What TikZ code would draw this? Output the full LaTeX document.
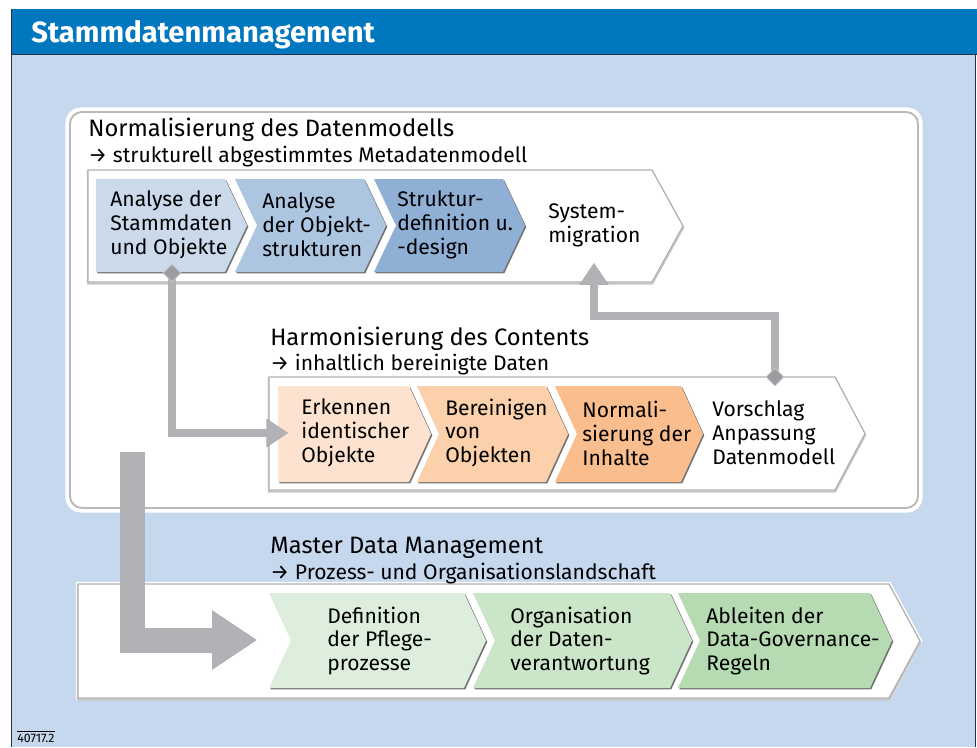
\documentclass[tikz,border=0pt]{standalone}
\usepackage{fontspec}
\setmainfont{Fira Sans}
\usepackage{tikz}
\usetikzlibrary{arrows.meta,shapes.geometric}
\definecolor{headblue}{RGB}{0,119,190}
\definecolor{panelblue}{RGB}{198,216,238}
\definecolor{frameline}{RGB}{40,48,70}
\definecolor{normA}{RGB}{202,218,235}
\definecolor{normB}{RGB}{172,197,225}
\definecolor{normC}{RGB}{143,175,212}
\definecolor{harmA}{RGB}{253,227,207}
\definecolor{harmB}{RGB}{251,208,171}
\definecolor{harmC}{RGB}{249,189,142}
\definecolor{mdmA}{RGB}{222,238,220}
\definecolor{mdmB}{RGB}{203,229,201}
\definecolor{mdmC}{RGB}{182,219,179}
\definecolor{flowgray}{RGB}{177,178,181}
\definecolor{flowedge}{RGB}{138,140,144}
\pgfdeclarelayer{front}
\pgfsetlayers{main,front}
% chevron: #1 options, #2 left, #3 right corner, #4 top, #5 bottom, #6 notch, #7 tip
\newcommand{\chevshape}[7]{%
  \path[#1] (#2,#4) -- (#3,#4) -- ({#3+#7},{(#4+#5)/2}) -- (#3,#5)
    -- (#2,#5) -- ({#2+#6},{(#4+#5)/2}) -- cycle;}
% coloured process step with a small drop shadow
\newcommand{\stepfill}[6]{%
  \chevshape{fill=black!55, shift={(1.3,1.3)}}{#2}{#3}{#4}{#5}{#6}{22}
  \chevshape{fill=#1}{#2}{#3}{#4}{#5}{#6}{22}}
% outline of a whole phase
\newcommand{\bandframe}[5]{%
  \chevshape{draw=white, line width=2.5pt}{#1}{#2}{#3}{#4}{0}{#5}
  \chevshape{draw=gray!45, line width=1.4pt, shift={(0,1.5)}}{#1}{#2}{#3}{#4}{0}{#5}
  \chevshape{fill=white, draw=gray!60, line width=0.7pt}{#1}{#2}{#3}{#4}{0}{#5}}
\tikzset{
  steplabel/.style={
    anchor=west,
    align=left,
    inner sep=0pt,
    font=\fontsize{12}{13.6}\selectfont
  },
  bandtitle/.style={
    anchor=base west,
    inner sep=0pt,
    font=\fontsize{13.5}{16}\selectfont
  },
  bandnote/.style={
    anchor=base west,
    inner sep=0pt,
    font=\fontsize{12}{14}\selectfont
  },
  joint/.style={
    diamond,
    fill=flowedge!85,
    draw=gray!40,
    line width=0.4pt,
    minimum size=3.6mm,
    inner sep=0pt
  },
  flow/.style={
    draw=flowgray,
    line width=1.6mm,
    -{Triangle[length=4.3mm,width=5.4mm]}
  },
  flowshade/.style={
    flow,
    draw=flowedge,
    shift={(1.2,1.2)}
  },
  bigflow/.style={
    draw=flowgray,
    line width=5mm,
    -{Triangle[length=9mm,width=11.2mm]}
  },
  bigflowshade/.style={
    bigflow,
    draw=flowedge,
    shift={(1.5,1.5)}
  }
}
\begin{document}
\begin{tikzpicture}[x=0.2mm, y=-0.2mm, line join=miter]
  \useasboundingbox (0,0) rectangle (977,747);
  \fill[white] (0,0) rectangle (977,747);
  \fill[panelblue] (11,54) rectangle (975,747);
  \fill[headblue] (11,9) rectangle (977,54);
  \draw[frameline, line width=0.5pt] (11,9) -- (11,747) (11,54) -- (977,54) (975,54) -- (975,747);
  \node[anchor=base west, text=white, inner sep=0pt,
    font=\fontsize{16.6}{19}\selectfont\bfseries] (title) at (31,42) {Stammdatenmanagement};

  % frame around the first two phases
  \draw[white, line width=3pt, rounded corners=2.6mm] (68,110) rectangle (920,510);
  \draw[fill=white, draw=gray!55, line width=1.1pt, rounded corners=2.4mm] (70,112) rectangle (918,508);

  % phase outlines
  \bandframe{88}{652}{170}{282}{31}
  \bandframe{269}{835}{377}{490}{30}
  \bandframe{78}{889}{584}{698}{31}

  % steps
  \stepfill{normA}{96}{225}{179}{272}{0}
  \stepfill{normB}{235}{364}{179}{272}{22}
  \stepfill{normC}{374}{503}{179}{272}{22}
  \stepfill{harmA}{278}{409}{386}{482}{0}
  \stepfill{harmB}{417}{546}{386}{482}{22}
  \stepfill{harmC}{555}{681}{386}{482}{22}
  \stepfill{mdmA}{269}{464}{593}{688}{22}
  \stepfill{mdmB}{473}{670}{593}{688}{22}
  \stepfill{mdmC}{678}{870}{593}{688}{22}

  % phase headings
  \node[bandtitle] (normtitle) at (88,136) {Normalisierung des Datenmodells};
  \node[bandnote] (normnote) at (88,162) {→ strukturell abgestimmtes Metadatenmodell};
  \node[bandtitle] (harmtitle) at (270,345) {Harmonisierung des Contents};
  \node[bandnote] (harmnote) at (270,370) {→ inhaltlich bereinigte Daten};
  \node[bandtitle] (mdmtitle) at (270,553) {Master Data Management};
  \node[bandnote] (mdmnote) at (270,579) {→ Prozess- und Organisationslandschaft};

  % step labels
  \node[steplabel] (norm1) at (110,225) {Analyse der\\Stammdaten\\und Objekte};
  \node[steplabel] (norm2) at (262,225) {Analyse\\der Objekt-\\strukturen};
  \node[steplabel] (norm3) at (397,225) {Struktur-\\definition u.\\-design};
  \node[steplabel] (norm4) at (548,225) {System-\\migration};
  \node[steplabel] (harm1) at (301,433) {Erkennen\\identischer\\Objekte};
  \node[steplabel] (harm2) at (445,433) {Bereinigen\\von\\Objekten};
  \node[steplabel] (harm3) at (582,433) {Normali-\\sierung der\\Inhalte};
  \node[steplabel] (harm4) at (712,433) {Vorschlag\\Anpassung\\Datenmodell};
  \node[steplabel] (mdm1) at (327,641) {Definition\\der Pflege-\\prozesse};
  \node[steplabel] (mdm2) at (510,641) {Organisation\\der Daten-\\verantwortung};
  \node[steplabel] (mdm3) at (706,641) {Ableiten der\\Data-Governance-\\Regeln};

  % hand-over between the phases
  \begin{pgfonlayer}{front}
    \node[joint] (out1) at (172,273) {};
    \node[joint] (out2) at (775,377) {};
  \end{pgfonlayer}
  \coordinate (harmin) at (288,433);
  \coordinate (bend) at (594,316);
  \coordinate (normin) at (594,263);
  \coordinate (mdmfrom) at (132,452);
  \coordinate (mdmin) at (257,640);
  \draw[flowshade] (out1.center) |- (harmin);
  \draw[flow] (out1.center) |- (harmin);
  \draw[flowshade] (out2.center) |- (bend) -- (normin);
  \draw[flow] (out2.center) |- (bend) -- (normin);
  \draw[bigflowshade] (mdmfrom) |- (mdmin);
  \draw[bigflow] (mdmfrom) |- (mdmin);

  \node[anchor=base west, inner sep=0pt, font=\fontsize{7}{8}\selectfont] (figno) at (17,742) {40717.2};
  \draw[line width=0.4pt] ([yshift=1pt]figno.north west) -- ([yshift=1pt]figno.north east);
\end{tikzpicture}
\end{document}
